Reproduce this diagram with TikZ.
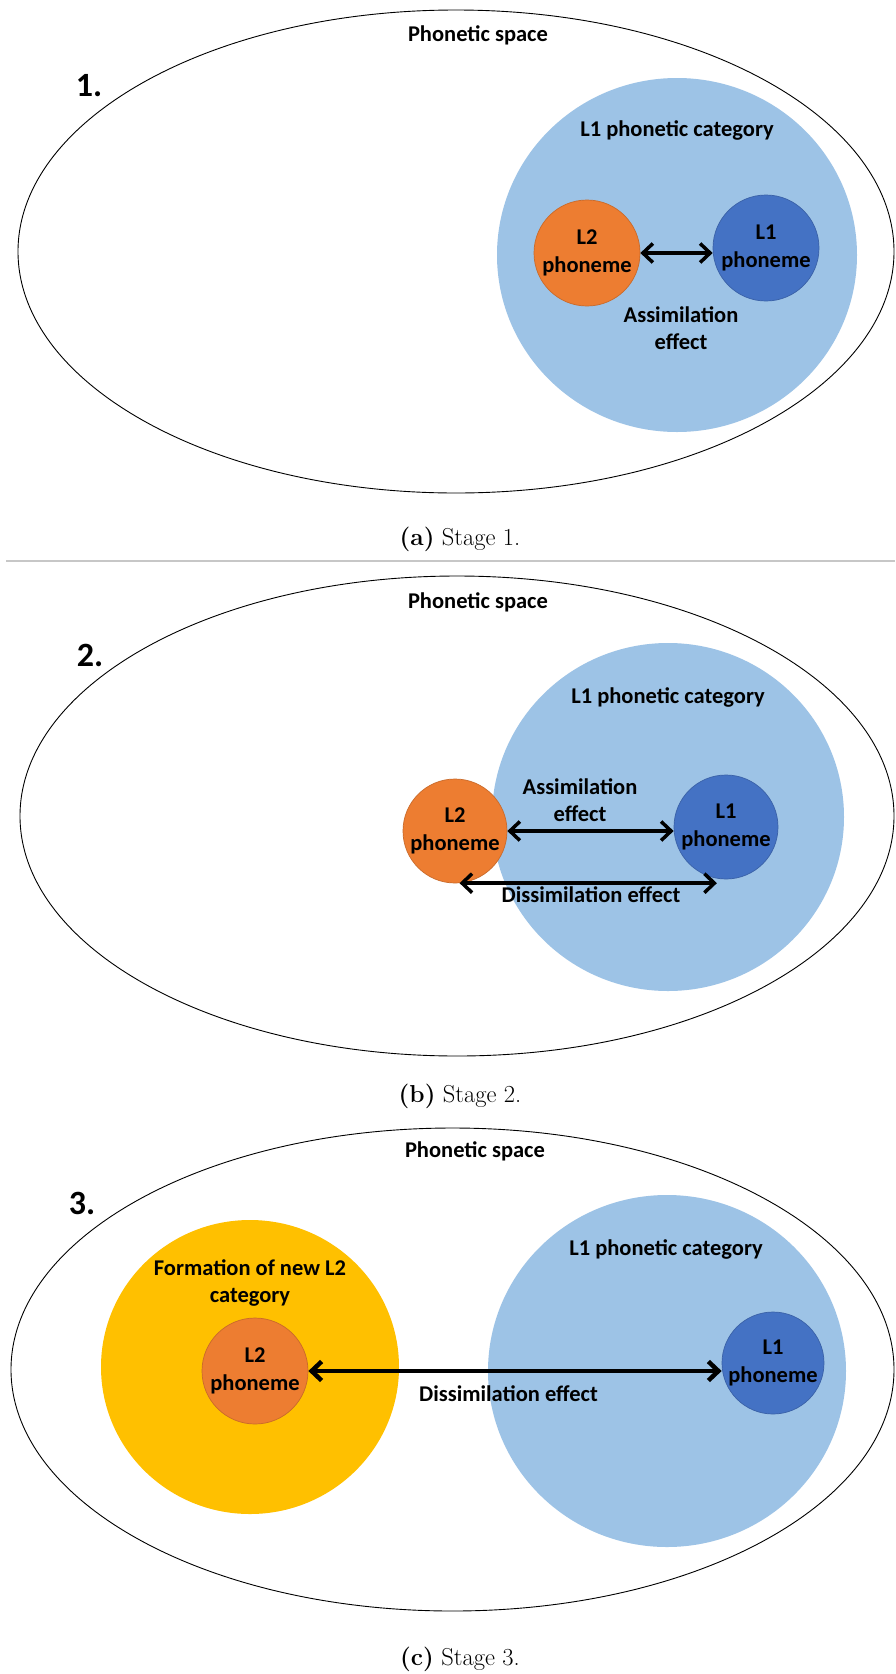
\documentclass[tikz,border=0pt]{standalone}
\usepackage{fontspec}
\newfontfamily\calib{Carlito}
\usetikzlibrary{shapes.geometric,arrows.meta,positioning}

\definecolor{catblue}{HTML}{9DC3E6}
\definecolor{phonorange}{HTML}{ED7D31}
\definecolor{phonblue}{HTML}{4472C4}
\definecolor{newyellow}{HTML}{FFC000}
\newcommand\lblfont{\calib\bfseries\fontsize{22.5}{27.5}\selectfont}

\tikzset{
  phonspace/.style={ellipse,draw=black,line width=0.9pt,inner sep=0pt},
  catblob/.style={ellipse,fill=catblue,inner sep=0pt},
  newcat/.style={ellipse,fill=newyellow,inner sep=0pt},
  l2phon/.style={circle,fill=phonorange,draw=phonorange!85!black,line width=0.7pt,
    minimum size=106pt,inner sep=0pt,align=center,font=\lblfont},
  l1phon/.style={circle,fill=phonblue,draw=phonblue!85!black,line width=0.7pt,
    minimum size=106pt,inner sep=0pt,align=center,font=\lblfont},
  lbl/.style={font=\lblfont,align=center,inner sep=0pt},
  num/.style={font=\calib\bfseries\fontsize{34}{40}\selectfont,inner sep=0pt},
  capt/.style={font=\fontsize{24.5}{29}\selectfont,inner sep=0pt},
  effarrow/.style={line width=3.5pt,
    {Straight Barb[length=10pt,width=19pt]}-{Straight Barb[length=10pt,width=19pt]}},
}

\begin{document}
\begin{tikzpicture}[x=1pt,y=-1pt]
    \fill[white] (0,0) rectangle (895,1674);
    \useasboundingbox (0,0) rectangle (895,1674);

    % Stage 1
    \node[phonspace, minimum width=876pt, minimum height=483pt] (space1) at (456,251.5) {};
    \node[lbl] (ps1) at (478,35) {Phonetic space};
    \node[num] (n1) at (89,86) {1.};
    \node[catblob, minimum width=360pt, minimum height=354pt] (cat1) at (677,255) {};
    \node[lbl] (catlbl1) at (677,130) {L1 phonetic category};
    \node[l2phon] (l2a) at (587,253) {L2\\phoneme};
    \node[l1phon] (l1a) at (766,248) {L1\\phoneme};
    \draw[effarrow] (l2a.east) -- (l2a.east -| l1a.west);
    \node[lbl] (assim1) at (681,328) {Assimilation\\effect};
    \node[capt] (capa) at (460,539) {\textbf{(a)} Stage 1.};

    \draw[black!22, line width=1.5pt] (6,561) -- (895,561);

    % Stage 2
    \node[phonspace, minimum width=874pt, minimum height=480pt] (space2) at (457,816) {};
    \node[lbl] (ps2) at (478,602) {Phonetic space};
    \node[num] (n2) at (90,655) {2.};
    \node[catblob, minimum width=352pt, minimum height=348pt] (cat2) at (668,817) {};
    \node[lbl] (catlbl2) at (668,697) {L1 phonetic category};
    \node[l2phon, minimum size=104pt] (l2b) at (455,831) {L2\\phoneme};
    \node[l1phon, minimum size=104pt] (l1b) at (726,827) {L1\\phoneme};
    \draw[effarrow] (l2b.east) -- (l2b.east -| l1b.west);
    \node[lbl] (assim2) at (580,800) {Assimilation\\effect};
    \draw[effarrow] (l2b.-85) -- (l2b.-85 -| l1b.-100);
    \node[lbl] (diss2) at (591,895) {Dissimilation effect};
    \node[capt] (capb) at (460,1096) {\textbf{(b)} Stage 2.};

    % Stage 3
    \node[phonspace, minimum width=883pt, minimum height=483pt] (space3) at (452.5,1369.5) {};
    \node[lbl] (ps3) at (475,1151) {Phonetic space};
    \node[num] (n3) at (82,1203) {3.};
    \node[newcat, minimum width=298pt, minimum height=294pt] (new3) at (250,1367) {};
    \node[lbl] (newlbl3) at (250,1283) {Formation of new L2\\category};
    \node[catblob, minimum width=358pt, minimum height=352pt] (cat3) at (667,1371) {};
    \node[lbl] (catlbl3) at (666,1249) {L1 phonetic category};
    \node[l2phon] (l2c) at (255,1371) {L2\\phoneme};
    \node[l1phon, minimum size=102pt] (l1c) at (773,1363) {L1\\phoneme};
    \draw[effarrow, line width=4.5pt] (l2c.east) -- (l2c.east -| l1c.west);
    \node[lbl] (diss3) at (508.5,1394) {Dissimilation effect};
    \node[capt] (capc) at (460,1659) {\textbf{(c)} Stage 3.};
\end{tikzpicture}
\end{document}
